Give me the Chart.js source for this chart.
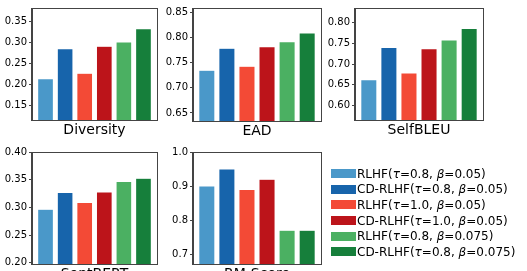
<!DOCTYPE html>
<html>
<head>
<meta charset="utf-8">
<script src="https://cdn.jsdelivr.net/npm/chart.js@4.4.1/dist/chart.umd.min.js"></script>
<style>
    body { margin: 0; width: 527px; height: 271px; overflow: hidden; background: #fff; position: relative; font-family: "DejaVu Sans", sans-serif; }
    canvas { position: absolute; }
    #legend { position: absolute; left: 331px; top: 166px; }
    .item { height: 15.6px; display: flex; align-items: center; font-size: 12px; color: #000; white-space: nowrap; }
    .swatch { width: 25px; height: 9px; margin-right: 1px; }
</style>
</head>
<body>
<canvas id="c0"></canvas>
<canvas id="c1"></canvas>
<canvas id="c2"></canvas>
<canvas id="c3"></canvas>
<canvas id="c4"></canvas>
<div id="legend"></div>
<script>
// methods, same order in every panel
const methods = ["RLHF(τ=0.8, β=0.05)", "CD-RLHF(τ=0.8, β=0.05)", "RLHF(τ=1.0, β=0.05)",
    "CD-RLHF(τ=1.0, β=0.05)", "RLHF(τ=0.8, β=0.075)", "CD-RLHF(τ=0.8, β=0.075)"];
const colors = ["#4a98c9", "#1764ab", "#f34a36", "#bc141a", "#4bb062", "#167f3b"];

// metric values
const diversity = [0.213, 0.284, 0.226, 0.290, 0.300, 0.332];
const ead = [0.735, 0.779, 0.743, 0.782, 0.792, 0.809];
const selfbleu = [0.662, 0.740, 0.678, 0.737, 0.758, 0.786];
const sentbert = [0.297, 0.327, 0.309, 0.328, 0.347, 0.353];
const rmscore = [0.90, 0.95, 0.89, 0.92, 0.77, 0.77];

// tick labels
const diversityTicks = ["0.15", "0.20", "0.25", "0.30", "0.35"];
const eadTicks = ["0.65", "0.70", "0.75", "0.80", "0.85"];
const selfbleuTicks = ["0.60", "0.65", "0.70", "0.75", "0.80"];
const sentbertTicks = ["0.20", "0.25", "0.30", "0.35", "0.40"];
const rmscoreTicks = ["0.7", "0.8", "0.9", "1.0"];

const panels = [
    { id: "c0", title: "Diversity", values: diversity, ticks: diversityTicks, min: 0.115, max: 0.381, left: 32, top: 6, w: 125, h: 114 },
    { id: "c1", title: "EAD", values: ead, ticks: eadTicks, min: 0.634, max: 0.859, left: 193, top: 6, w: 128, h: 115 },
    { id: "c2", title: "SelfBLEU", values: selfbleu, ticks: selfbleuTicks, min: 0.564, max: 0.836, left: 355, top: 6, w: 128, h: 114 },
    { id: "c3", title: "SentBERT", values: sentbert, ticks: sentbertTicks, min: 0.1977, max: 0.4005, left: 32, top: 150, w: 125, h: 114 },
    { id: "c4", title: "RM-Score", values: rmscore, ticks: rmscoreTicks, min: 0.671, max: 1.0, left: 193, top: 150, w: 128, h: 114 }
];

const yw = 32;   // room for y tick labels
const pt = 6;    // room above the axes
const xh = 19;   // room for the title below

// draw the top and right spines too
const frame = {
    id: "frame",
    afterDraw(chart) {
        const a = chart.chartArea, ctx = chart.ctx;
        ctx.save();
        ctx.strokeStyle = "#444";
        ctx.lineWidth = 1;
        ctx.strokeRect(Math.round(a.left) - 0.5, Math.round(a.top) + 0.5, Math.round(a.right - a.left) + 1, Math.round(a.bottom - a.top));
        ctx.restore();
    }
};

panels.forEach(p => {
    const cv = document.getElementById(p.id);
    cv.width = yw + p.w + 4;
    cv.height = pt + p.h + xh;
    cv.style.left = (p.left - yw) + "px";
    cv.style.top = (p.top - pt) + "px";

    new Chart(cv, {
        type: "bar",
        data: {
            datasets: [{
                data: p.values.map((v, i) => ({ x: i, y: v })),
                backgroundColor: colors,
                borderColor: "#fff",
                borderWidth: 0.5,
                borderSkipped: "start",
                barPercentage: 0.8,
                categoryPercentage: 1
            }]
        },
        options: {
            responsive: false,
            animation: false,
            events: [],
            layout: { padding: { top: pt, right: 4, left: 0, bottom: 0 } },
            plugins: { legend: { display: false }, tooltip: { enabled: false } },
            scales: {
                x: {
                    type: "linear",
                    min: -0.69,
                    max: 5.69,
                    offset: false,
                    ticks: { display: false },
                    grid: { display: false, offset: false },
                    border: { display: true, color: "#444", width: 1 },
                    title: {
                        display: true,
                        text: p.title,
                        color: "#000",
                        font: { family: "DejaVu Sans", size: 14 },
                        padding: 0
                    },
                    afterFit: (s) => { s.height = xh; }
                },
                y: {
                    min: p.min,
                    max: p.max,
                    afterBuildTicks: (s) => { s.ticks = p.ticks.map(t => ({ value: parseFloat(t) })); },
                    ticks: {
                        color: "#000",
                        font: { family: "DejaVu Sans", size: 10 },
                        padding: 2,
                        callback: (v, i) => p.ticks[i]
                    },
                    grid: { display: true, drawOnChartArea: false, drawTicks: true, tickLength: 3, color: "#444" },
                    border: { display: true, color: "#444", width: 1 },
                    afterFit: (s) => { s.width = yw; }
                }
            }
        },
        plugins: [frame]
    });
});

// legend
const lg = document.getElementById("legend");
methods.forEach((m, i) => {
    const row = document.createElement("div");
    row.className = "item";
    const sw = document.createElement("span");
    sw.className = "swatch";
    sw.style.background = colors[i];
    const tx = document.createElement("span");
    tx.innerHTML = m.replace(/([τβ])/g, "<i>$1</i>");
    row.appendChild(sw);
    row.appendChild(tx);
    lg.appendChild(row);
});
</script>
</body>
</html>
